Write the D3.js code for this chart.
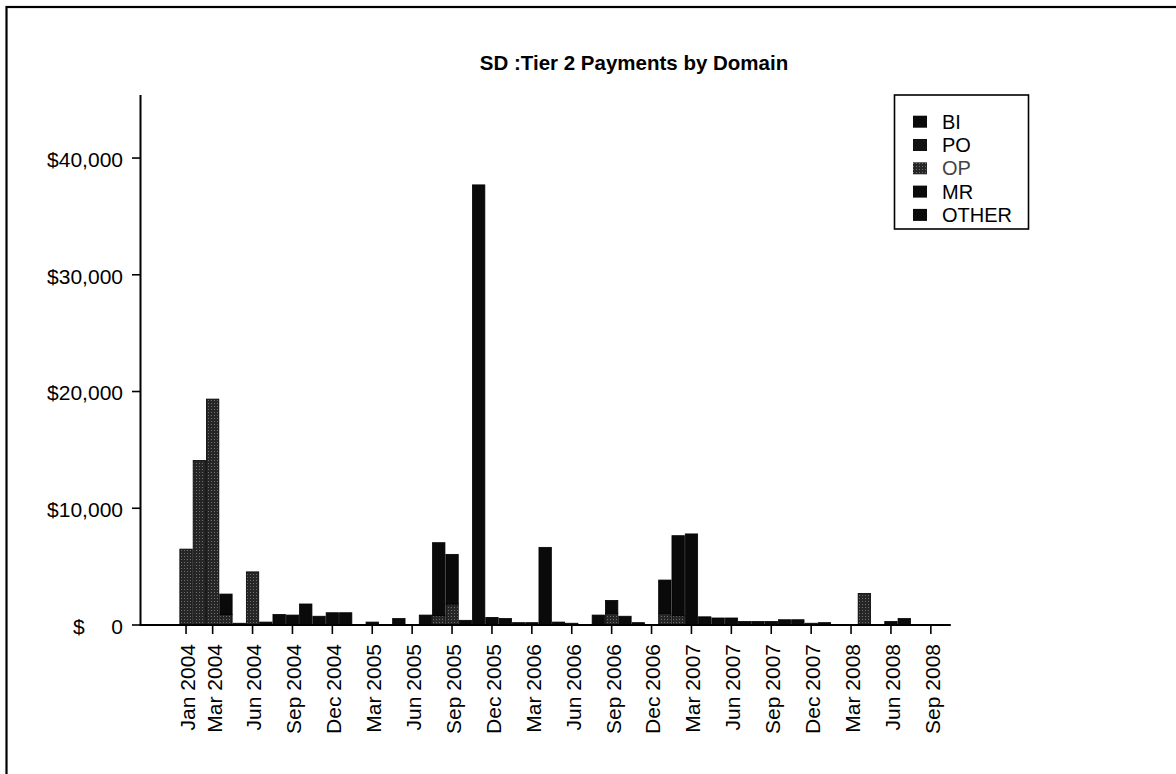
<!DOCTYPE html>
<html>
<head>
<meta charset="utf-8">
<script src="https://cdn.jsdelivr.net/npm/d3@7"></script>
<style>
  html, body { margin: 0; padding: 0; background: #fff; }
  svg { display: block; }
  text { font-family: "Liberation Sans", Arial, sans-serif; fill: #000; }
</style>
</head>
<body>
<svg id="chart" width="1176" height="774"></svg>
<script>
// ---------------- DATA ----------------
const categories = [
  "Jan 2004","Feb 2004","Mar 2004","Apr 2004","May 2004","Jun 2004","Jul 2004","Aug 2004","Sep 2004","Oct 2004","Nov 2004","Dec 2004",
  "Jan 2005","Feb 2005","Mar 2005","Apr 2005","May 2005","Jun 2005","Jul 2005","Aug 2005","Sep 2005","Oct 2005","Nov 2005","Dec 2005",
  "Jan 2006","Feb 2006","Mar 2006","Apr 2006","May 2006","Jun 2006","Jul 2006","Aug 2006","Sep 2006","Oct 2006","Nov 2006","Dec 2006",
  "Jan 2007","Feb 2007","Mar 2007","Apr 2007","May 2007","Jun 2007","Jul 2007","Aug 2007","Sep 2007","Oct 2007","Nov 2007","Dec 2007",
  "Jan 2008","Feb 2008","Mar 2008","Apr 2008","May 2008","Jun 2008","Jul 2008","Aug 2008","Sep 2008","Oct 2008"
];
const seriesNames = ["BI", "PO", "OP", "MR", "OTHER"];

// The scan is greyscale: stippled (OP) parts sit at the bottom, black parts on top.
const BI = [
  0,0,0,0,0,0,0,0,0,0,0,0,
  0,0,0,0,0,0,0,0,0,0,0,0,
  0,0,0,0,0,0,0,0,0,0,0,0,
  0,0,0,0,0,0,0,0,0,0,0,0,
  0,0,0,0,0,0,0,0,0,0
];
const PO = [
  0,0,0,0,0,0,0,0,0,0,0,0,
  0,0,0,0,0,0,0,0,0,0,0,0,
  0,0,0,0,0,0,0,0,0,0,0,0,
  0,0,0,0,0,0,0,0,0,0,0,0,
  0,0,0,0,0,0,0,0,0,0
];
const OP = [
  6500,14100,19350,900,0,4550,0,0,0,0,0,0,
  0,0,0,0,0,0,0,800,1800,0,0,0,
  0,0,0,0,0,0,0,0,1000,0,0,0,
  1000,800,0,0,0,0,0,0,0,0,0,0,
  0,0,0,2700,0,0,0,0,0,0
];
const MR = [
  0,0,0,1750,150,0,250,900,850,1800,750,1050,
  1050,30,250,0,550,50,850,6250,4250,400,37700,650,
  550,200,200,6650,250,150,50,850,1100,750,200,50,
  2850,6850,7800,700,600,600,300,300,300,450,450,150,
  200,30,30,0,0,300,550,0,0,0
];
const OTHER = [
  0,0,0,0,0,0,0,0,0,0,0,0,
  0,0,0,0,0,0,0,0,0,0,0,0,
  0,0,0,0,0,0,0,0,0,0,0,0,
  0,0,0,0,0,0,0,0,0,0,0,0,
  0,0,0,0,0,0,0,0,0,0
];
const tickLabels = [
  "Jan 2004","Mar 2004","Jun 2004","Sep 2004","Dec 2004","Mar 2005","Jun 2005","Sep 2005","Dec 2005",
  "Mar 2006","Jun 2006","Sep 2006","Dec 2006","Mar 2007","Jun 2007","Sep 2007","Dec 2007",
  "Mar 2008","Jun 2008","Sep 2008"
];
const yTicks = [0, 10000, 20000, 30000, 40000];
const titleText = "SD :Tier 2 Payments by Domain";

// ---------------- LAYOUT ----------------
const svg = d3.select("#chart");
const axisX0 = 140.5, barsX0 = 179.4, barsX1 = 950.8;
const yBase = 625, yTop = 95;

const defs = svg.append("defs");
const pat = defs.append("pattern").attr("id", "stip")
  .attr("width", 3).attr("height", 3).attr("patternUnits", "userSpaceOnUse");
pat.append("rect").attr("width", 3).attr("height", 3).attr("fill", "#262626");
pat.append("rect").attr("x", 1).attr("y", 1).attr("width", 1).attr("height", 1).attr("fill", "#6e6e6e");

const fills = { BI: "#0a0a0a", PO: "#111", OP: "url(#stip)", MR: "#0a0a0a", OTHER: "#0a0a0a" };

svg.append("rect").attr("width", 1176).attr("height", 774).attr("fill", "#fff");

// outer frame of the scanned page
svg.append("rect").attr("x", 6.5).attr("y", 7).attr("width", 1220).attr("height", 820)
  .attr("fill", "none").attr("stroke", "#000").attr("stroke-width", 2.2);

// title
svg.append("text").attr("x", 634).attr("y", 69.5).attr("text-anchor", "middle")
  .attr("font-size", 20.5).attr("font-weight", "bold").text(titleText);

// scales
const x = d3.scaleBand().domain(categories).range([barsX0, barsX1]).paddingInner(0.07).paddingOuter(0.035);
const y = d3.scaleLinear().domain([0, 45400]).range([yBase, yTop]);

// stacked data
const table = categories.map((c, i) => ({
  cat: c, BI: BI[i], PO: PO[i], OP: OP[i], MR: MR[i], OTHER: OTHER[i]
}));
const stackOrder = ["OP", "BI", "PO", "MR", "OTHER"];
const stacked = d3.stack().keys(stackOrder)(table);

svg.append("g").selectAll("g").data(stacked).join("g")
  .attr("fill", d => fills[d.key])
  .selectAll("rect").data(d => d.filter(p => p[1] - p[0] > 0)).join("rect")
  .attr("x", d => x(d.data.cat))
  .attr("y", d => y(d[1]))
  .attr("width", x.bandwidth())
  .attr("height", d => y(d[0]) - y(d[1]))
  .attr("stroke", "#000").attr("stroke-width", 0.8);

// y axis
const gy = svg.append("g");
gy.append("line").attr("x1", axisX0).attr("x2", axisX0).attr("y1", yTop).attr("y2", yBase)
  .attr("stroke", "#000").attr("stroke-width", 2);
gy.selectAll("line.tk").data(yTicks).join("line").attr("class", "tk")
  .attr("x1", 132).attr("x2", axisX0).attr("y1", d => y(d)).attr("y2", d => y(d))
  .attr("stroke", "#000").attr("stroke-width", 1.6);
const fmt = d3.format(",");
gy.selectAll("text.yl").data(yTicks).join("text").attr("class", "yl")
  .attr("x", 123).attr("y", d => y(d) + 1.5).attr("dy", "0.35em")
  .attr("text-anchor", "end").attr("font-size", 21)
  .text(d => d === 0 ? "0" : "$" + fmt(d));
gy.append("text").attr("x", 73).attr("y", y(0) + 1.5).attr("dy", "0.35em")
  .attr("font-size", 21).text("$");

// x axis
const gx = svg.append("g");
gx.append("line").attr("x1", axisX0 - 1).attr("x2", barsX1).attr("y1", yBase).attr("y2", yBase)
  .attr("stroke", "#000").attr("stroke-width", 2);
const cx = c => x(c) + x.bandwidth() / 2;
gx.selectAll("line.tk").data(tickLabels).join("line").attr("class", "tk")
  .attr("x1", cx).attr("x2", cx).attr("y1", yBase).attr("y2", yBase + 9)
  .attr("stroke", "#000").attr("stroke-width", 1.6);
gx.selectAll("text").data(tickLabels).join("text")
  .attr("transform", d => `translate(${cx(d) + 1.5},${yBase + 19}) rotate(-90)`)
  .attr("dy", "0.35em").attr("text-anchor", "end").attr("font-size", 21)
  .text(d => d);

// legend
const lg = svg.append("g");
lg.append("rect").attr("x", 894.5).attr("y", 95).attr("width", 134).attr("height", 134)
  .attr("fill", "#fff").attr("stroke", "#000").attr("stroke-width", 1.6);
const rowY = i => 121.7 + i * 23.3;
lg.selectAll("rect.sw").data(seriesNames).join("rect").attr("class", "sw")
  .attr("x", 913).attr("y", (d, i) => rowY(i) - 6).attr("width", 14).attr("height", 12)
  .attr("fill", d => fills[d]);
lg.selectAll("text").data(seriesNames).join("text")
  .attr("x", 942).attr("y", (d, i) => rowY(i)).attr("dy", "0.35em")
  .attr("font-size", 20)
  .style("fill", d => d === "OP" ? "#444" : "#000")
  .text(d => d);
</script>
</body>
</html>
